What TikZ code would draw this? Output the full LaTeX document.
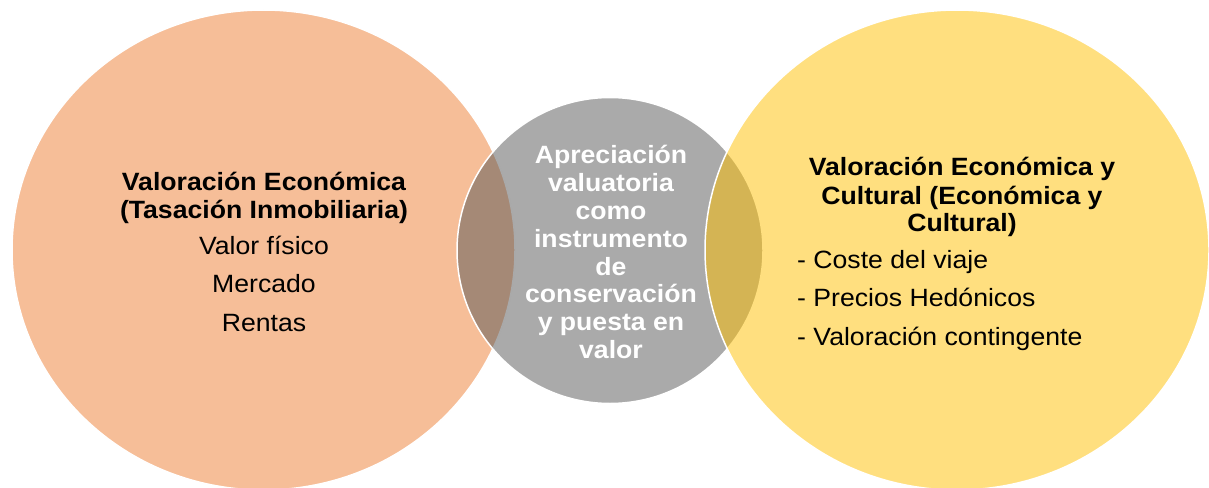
\documentclass[tikz,border=0pt]{standalone}
\usepackage{fontspec}
\setmainfont{Liberation Sans}
\usetikzlibrary{shapes.geometric}
\definecolor{orangeC}{HTML}{ED7D31}
\definecolor{grayC}{HTML}{555555}
\definecolor{goldC}{HTML}{FFC000}
\newcommand{\sx}{1.065}
\tikzset{
  bubble/.style={ellipse, draw=white, line width=1.5pt, draw opacity=1, fill opacity=0.5, inner sep=0pt},
  line/.style={inner sep=0pt, anchor=base, font=\fontsize{25}{25}\selectfont},
  bline/.style={line, font=\fontsize{25}{25}\selectfont\bfseries},
  wline/.style={bline, text=white}
}
\newcommand{\X}[1]{\scalebox{\sx}[1]{#1}}
\begin{document}
\begin{tikzpicture}[x=1pt,y=-1pt]
\useasboundingbox (0,0) rectangle (1209,487);
\node[bubble, fill=orangeC, minimum width=503pt, minimum height=480pt] (lc) at (263.5,250) {};
\node[bubble, fill=grayC, minimum width=306pt, minimum height=306pt] (mc) at (610,250.5) {};
\node[bubble, fill=goldC, minimum width=504pt, minimum height=480pt] (rc) at (957,250) {};
% left texts
\node[bline] (l1) at (264,190.5) {\X{Valoración Económica}};
\node[bline] (l2) at (264,218.8) {\X{(Tasación Inmobiliaria)}};
\node[line] (l3) at (264,254.5) {\X{Valor físico}};
\node[line] (l4) at (264,292.3) {\X{Mercado}};
\node[line] (l5) at (264,331) {\X{Rentas}};
% middle texts
\node[wline] (m1) at (611,163.8) {\X{Apreciación}};
\node[wline] (m2) at (611,191.6) {\X{valuatoria}};
\node[wline] (m3) at (611,219.4) {\X{como}};
\node[wline] (m4) at (611,247.2) {\X{instrumento}};
\node[wline] (m5) at (611,275) {\X{de}};
\node[wline] (m6) at (611,302.8) {\X{conservación}};
\node[wline] (m7) at (611,330.6) {\X{y puesta en}};
\node[wline] (m8) at (611,358.4) {\X{valor}};
% right texts
\node[bline] (r1) at (962,175.2) {\X{Valoración Económica y}};
\node[bline] (r2) at (962,204) {\X{Cultural (Económica y}};
\node[bline] (r3) at (962,231) {\X{Cultural)}};
\node[line, anchor=base west] (r4) at (797,268.3) {\X{- Coste del viaje}};
\node[line, anchor=base west] (r5) at (797,306.3) {\X{- Precios Hedónicos}};
\node[line, anchor=base west] (r6) at (797,345.5) {\X{- Valoración contingente}};
\end{tikzpicture}
\end{document}
